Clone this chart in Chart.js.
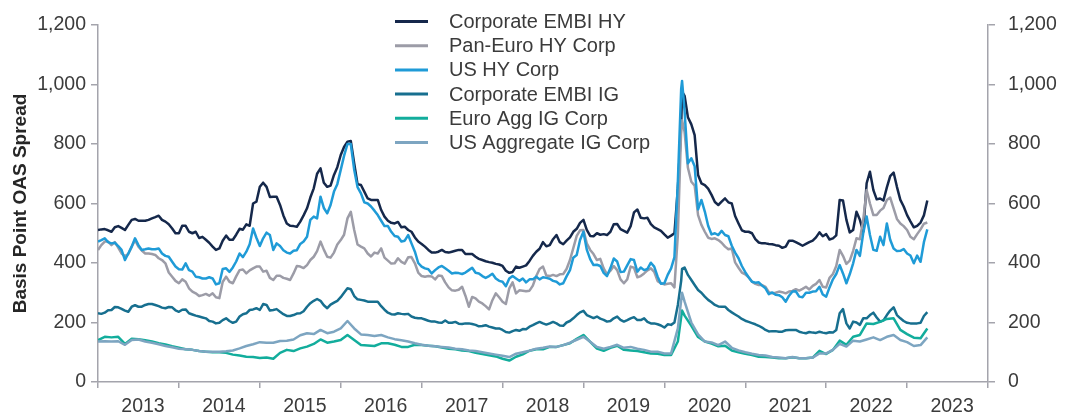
<!DOCTYPE html>
<html>
<head>
<meta charset="utf-8">
<script src="https://cdn.jsdelivr.net/npm/chart.js@4.4.1/dist/chart.umd.min.js"></script>
<style>
  html, body { margin: 0; padding: 0; background: #fff; }
</style>
</head>
<body>
<canvas id="spreads" width="1075" height="419"></canvas>
<script>
// start-of-month readings, plus one extra point at the March 2020 peak
const dates = [
  '2013-01','2013-02','2013-03','2013-04','2013-05','2013-06','2013-07','2013-08','2013-09','2013-10','2013-11','2013-12',
  '2014-01','2014-02','2014-03','2014-04','2014-05','2014-06','2014-07','2014-08','2014-09','2014-10','2014-11','2014-12',
  '2015-01','2015-02','2015-03','2015-04','2015-05','2015-06','2015-07','2015-08','2015-09','2015-10','2015-11','2015-12',
  '2016-01','2016-02','2016-03','2016-04','2016-05','2016-06','2016-07','2016-08','2016-09','2016-10','2016-11','2016-12',
  '2017-01','2017-02','2017-03','2017-04','2017-05','2017-06','2017-07','2017-08','2017-09','2017-10','2017-11','2017-12',
  '2018-01','2018-02','2018-03','2018-04','2018-05','2018-06','2018-07','2018-08','2018-09','2018-10','2018-11','2018-12',
  '2019-01','2019-02','2019-03','2019-04','2019-05','2019-06','2019-07','2019-08','2019-09','2019-10','2019-11','2019-12',
  '2020-01','2020-02','2020-03','2020-03-20','2020-04','2020-05','2020-06','2020-07','2020-08','2020-09','2020-10','2020-11','2020-12',
  '2021-01','2021-02','2021-03','2021-04','2021-05','2021-06','2021-07','2021-08','2021-09','2021-10','2021-11','2021-12',
  '2022-01','2022-02','2022-03','2022-04','2022-05','2022-06','2022-07','2022-08','2022-09','2022-10','2022-11','2022-12',
  '2023-01','2023-02','2023-03','2023-04'
];

const embiHY = [
  511,514,505,524,511,545,542,542,550,559,539,516,
  500,525,500,484,478,455,449,492,478,515,530,600,
  656,656,623,595,533,524,539,584,651,718,656,696,
  763,808,735,662,617,612,578,542,533,520,511,486,
  464,444,435,444,435,441,444,430,421,410,403,397,
  390,367,388,388,407,438,470,460,494,463,486,515,
  545,491,500,497,505,531,508,524,580,550,531,514,
  496,492,650,976,962,866,696,662,629,595,617,600,533,
  505,500,469,466,463,458,455,475,464,464,475,503,
  497,483,612,545,511,545,668,645,617,654,704,612,
  561,520,536,610
];
const panEuroHY = [
  444,472,460,452,423,455,455,432,430,416,399,354,
  332,337,304,289,296,298,282,354,332,376,365,382,
  388,374,343,357,347,365,388,393,421,472,421,435,
  477,550,511,455,432,435,449,408,399,404,419,399,
  356,356,345,356,318,307,320,253,281,264,244,298,
  270,315,298,307,307,356,388,356,356,363,410,491,
  511,444,410,382,374,376,332,388,352,365,382,339,
  328,332,494,880,840,673,561,505,481,477,455,449,384,
  362,337,326,320,298,304,298,306,307,320,323,343,
  318,363,444,397,441,480,645,561,576,612,584,533,
  511,480,513,536
];
const usHY = [
  472,483,466,457,410,455,460,446,446,449,424,404,
  379,399,371,352,348,348,332,382,385,432,438,516,
  457,502,444,457,435,441,464,488,556,623,567,640,
  713,800,713,634,600,576,542,524,491,472,494,438,
  388,379,376,390,374,367,363,376,367,356,356,348,
  337,348,348,348,345,354,352,347,337,332,376,427,
  505,413,394,367,383,405,371,413,371,376,401,354,
  332,382,673,1012,910,752,580,573,496,494,494,458,416,
  369,337,335,315,301,292,270,304,287,300,304,320,
  287,345,393,332,399,424,556,444,488,533,449,441,
  432,399,404,513
];
const embiIG = [
  231,233,242,251,240,253,253,259,262,255,248,251,
  236,244,227,220,214,203,199,214,199,220,231,244,
  242,259,242,236,222,225,231,253,273,273,248,267,
  285,315,289,276,270,270,255,233,227,229,229,216,
  214,206,203,199,199,202,195,197,192,188,186,180,
  175,166,175,178,186,197,197,197,197,189,205,225,
  239,220,220,209,205,220,203,214,208,214,197,194,
  183,192,259,380,385,343,309,287,268,254,253,234,220,
  206,198,189,175,171,169,174,175,169,164,166,169,
  164,166,231,197,203,192,214,233,203,225,251,214,
  199,197,199,235
];
const euroAggIG = [
  141,152,150,152,128,145,144,140,136,130,126,120,
  115,110,108,104,102,100,100,98,92,89,85,84,
  81,82,78,98,108,104,113,119,128,143,132,136,
  141,158,141,124,123,121,130,130,125,118,118,125,
  124,122,120,116,112,110,106,104,98,94,90,86,
  78,72,85,93,105,110,110,118,118,124,130,145,
  158,135,112,105,115,122,108,106,104,100,96,95,
  91,91,136,240,223,189,151,136,129,120,122,106,100,
  95,91,85,84,82,80,80,83,80,80,82,105,
  94,108,139,125,152,158,197,195,202,212,214,175,
  161,149,147,180
];
const usAggIG = [
  136,137,136,137,125,141,143,136,132,127,121,117,
  112,110,108,104,102,102,102,103,106,113,121,127,
  134,132,132,138,139,143,157,164,161,175,164,169,
  180,205,180,160,158,155,158,150,144,140,136,130,
  125,122,120,118,116,112,110,106,104,100,96,92,
  88,84,95,100,105,112,115,119,118,124,132,142,
  152,135,118,112,118,125,115,118,112,108,102,102,
  96,96,180,300,270,200,160,136,133,124,136,115,106,
  100,95,91,89,84,82,80,84,80,80,82,96,
  96,108,128,119,139,136,143,150,141,152,158,141,
  134,121,124,150
];

// mid-month readings (16th of each month, Jan 2013 .. Mar 2023) for the noisier series
const embiHYMid = [
  513,510,520,518,528,548,542,545,554,545,530,500,
  525,505,505,488,468,444,475,478,495,512,525,606,
  670,622,623,560,525,522,560,620,700,670,660,722,
  790,810,665,640,612,612,556,535,538,522,505,472,
  455,435,438,437,438,444,430,430,414,406,401,395,
  374,370,384,392,424,448,456,480,470,475,505,535,
  511,490,495,494,530,514,502,570,552,552,520,508,
  485,500,860,890,830,668,650,605,606,604,558,510,
  505,480,466,464,460,451,475,470,458,470,486,490,
  479,493,610,503,572,505,707,614,610,692,656,590,
  540,525,560
];
const panEuroHYMid = [
  460,472,470,432,430,477,442,432,427,410,368,340,
  345,315,298,292,290,285,336,337,355,378,375,388,
  371,350,357,350,343,390,383,410,440,445,418,462,
  495,572,462,449,422,432,418,398,416,398,420,368,
  354,355,358,335,308,310,290,286,270,255,275,285,
  262,335,308,305,324,380,358,360,362,380,450,510,
  466,430,414,362,390,345,345,384,356,375,370,332,
  330,318,850,720,660,528,485,483,468,446,402,368,
  352,330,326,302,300,302,304,312,313,311,330,320,
  350,390,424,408,483,545,600,561,585,620,548,524,
  488,497,532
];
const usHYMid = [
  477,470,468,444,432,483,444,449,446,432,421,388,
  378,376,354,348,352,328,380,370,405,420,463,485,
  483,494,466,443,432,443,472,545,550,585,595,665,
  760,800,655,604,590,561,524,505,488,475,466,400,
  382,365,385,382,365,366,368,384,365,350,364,340,
  322,356,340,335,345,345,350,340,328,355,418,477,
  445,393,390,356,415,370,392,410,385,380,388,330,
  360,420,985,735,725,612,525,500,508,490,435,390,
  352,334,324,295,293,285,290,305,285,300,305,294,
  318,363,365,362,444,500,494,441,460,478,440,447,
  425,425,470
];
const embiIGMid = [
  229,241,252,246,236,258,253,262,259,250,252,241,
  243,231,223,217,205,197,208,205,203,228,242,248,
  262,240,245,228,222,230,238,265,279,258,260,273,
  300,312,278,274,270,270,243,228,231,228,220,214,
  210,203,200,207,199,196,197,195,187,191,183,180,
  168,171,172,177,191,202,193,202,190,200,214,234,
  225,215,213,203,214,209,208,218,208,202,197,190,
  194,200,340,360,326,300,276,259,253,242,227,212,
  202,194,183,170,171,169,175,175,166,168,165,166,
  167,175,245,180,200,214,225,217,207,240,225,205,
  197,197,222
];

const seriesNames = ['Corporate EMBI HY','Pan-Euro HY Corp','US HY Corp','Corporate EMBI IG','Euro Agg IG Corp','US Aggregate IG Corp'];
const seriesMain = [embiHY, panEuroHY, usHY, embiIG, euroAggIG, usAggIG];
const seriesMid = [embiHYMid, panEuroHYMid, usHYMid, embiIGMid, null, null];
const seriesColors = ['#15284b','#9c9ca7','#1f9bd7','#176f8f','#12ad9c','#7da5c1'];
const yTicks = [0, 200, 400, 600, 800, 1000, 1200];
const yearTicks = [2013, 2014, 2015, 2016, 2017, 2018, 2019, 2020, 2021, 2022, 2023, 2024];

const FONT = "'Liberation Sans', Arial, sans-serif";
const INK = '#3b3b3b';
const AXIS = '#a4a4ac';

// 'YYYY-MM' or 'YYYY-MM-DD' -> decimal year
const toYear = s => { const [y, m, d] = s.split('-').map(Number); return y + (m - 1) / 12 + ((d || 1) - 1) / 365; };
const monthStarts = dates.filter(d => d.length === 7);
const midDates = monthStarts.slice(0, -1).map(d => d + '-16');

function points(main, mid) {
  const pts = dates.map((d, i) => ({x: toYear(d), y: main[i]}));
  if (mid) mid.forEach((v, i) => pts.push({x: toYear(midDates[i]), y: v}));
  return pts.sort((a, b) => a.x - b.x);
}

// legend: a column of short line samples with labels
const lineLegend = {
  id: 'lineLegend',
  afterDraw(chart, args, o) {
    const {ctx} = chart;
    ctx.save();
    ctx.font = `${o.size}px ${FONT}`;
    ctx.textBaseline = 'middle';
    ctx.textAlign = 'left';
    chart.data.datasets.forEach((ds, i) => {
      const y = o.top + i * o.step;
      ctx.strokeStyle = ds.borderColor;
      ctx.lineWidth = 3;
      ctx.beginPath(); ctx.moveTo(o.x, y); ctx.lineTo(o.x + o.len, y); ctx.stroke();
      ctx.fillStyle = INK;
      ctx.fillText(ds.label, o.x + o.len + o.gap, y + 1);
    });
    ctx.restore();
  }
};

const yAxis = (pos, extra) => Object.assign({
  position: pos, min: 0, max: 1200,
  afterBuildTicks: s => { s.ticks = yTicks.map(v => ({value: v})); },
  border: {color: AXIS, width: 1.5},
  grid: {drawOnChartArea: false, tickLength: 7, tickColor: AXIS, lineWidth: 1.5}
}, extra);

new Chart(document.getElementById('spreads'), {
  type: 'line',
  data: {
    datasets: seriesNames.map((name, i) => ({
      label: name,
      data: points(seriesMain[i], seriesMid[i]),
      borderColor: seriesColors[i],
      backgroundColor: seriesColors[i],
      borderWidth: 2.5,
      pointRadius: 0,
      tension: 0,
      borderJoinStyle: 'round',
      order: seriesNames.length - i
    }))
  },
  options: {
    responsive: false,
    animation: false,
    layout: {padding: {top: 25, left: 5, right: 0, bottom: 0}},
    plugins: {
      legend: {display: false},
      tooltip: {enabled: false},
      lineLegend: {x: 395, len: 33, gap: 21, top: 21.5, step: 24.2, size: 20}
    },
    scales: {
      x: {
        type: 'linear', min: 2013, max: 2024,
        afterBuildTicks: s => { s.ticks = yearTicks.map(v => ({value: v})); },
        afterFit: s => { s.height = 37; },
        border: {color: AXIS, width: 1.5},
        grid: {drawOnChartArea: false, tickLength: 6, tickColor: AXIS, lineWidth: 1.5},
        ticks: {
          autoSkip: false, maxRotation: 0, labelOffset: 45, padding: 7,
          color: INK, font: {family: FONT, size: 19.5},
          callback: v => v < 2024 ? String(v) : ''
        }
      },
      y: yAxis('left', {
        afterFit: s => { s.width = 93; },
        ticks: {color: INK, padding: 5, font: {family: FONT, size: 19.5}, callback: v => v.toLocaleString('en-US')},
        title: {display: true, text: 'Basis Point OAS Spread', color: '#262626',
                font: {family: FONT, size: 19, weight: 'bold'}, padding: {top: 4, bottom: 4}}
      }),
      y2: yAxis('right', {
        afterFit: s => { s.width = 87; },
        ticks: {color: INK, padding: 13, font: {family: FONT, size: 19.5}, callback: v => v.toLocaleString('en-US')}
      })
    }
  },
  plugins: [lineLegend]
});
</script>
</body>
</html>
